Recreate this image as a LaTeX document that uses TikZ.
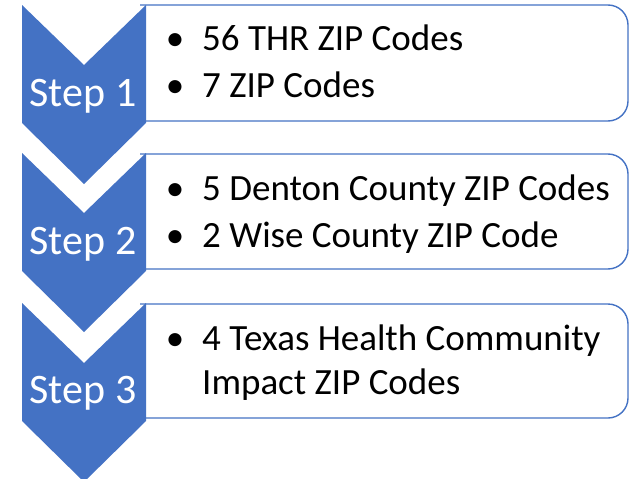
\documentclass[tikz,border=0pt]{standalone}
\usepackage{fontspec}
\setmainfont{Carlito}
\definecolor{accent}{HTML}{4472C4}
\begin{document}
\begin{tikzpicture}[x=1pt,y=-1pt,
  chev/.style={fill=accent},
  listbox/.style={draw=accent,line width=1.4pt,fill=white,rounded corners=20pt},
  steplabel/.style={text=white,font=\fontsize{42}{50}\selectfont,anchor=base,inner sep=0pt},
  item/.style={text=black,font=\fontsize{37}{44}\selectfont,anchor=base west,inner sep=0pt},
  bul/.style={text=black,font=\fontsize{37}{44}\selectfont,anchor=base,inner sep=0pt}]
\useasboundingbox (0,0) rectangle (635,479);
% boxes
\draw[listbox] (140,5) -- (628,5) -- (628,121) -- (140,121);
\draw[listbox] (140,154) -- (628,154) -- (628,269) -- (140,269);
\draw[listbox] (140,304) -- (628,304) -- (628,418) -- (140,418);
% chevrons
\foreach \t in {5,153,303}{
  \fill[chev] (22,\t) -- (84,\t+60) -- (146,\t) -- (146,\t+118) -- (84,\t+179) -- (22,\t+118) -- cycle;
}
% step labels
\node[steplabel] (s1) at (83,106) {Step 1};
\node[steplabel] (s2) at (83,254) {Step 2};
\node[steplabel] (s3) at (83,403) {Step 3};
% box 1
\node[bul] (b1a) at (175,50) {•};
\node[item] (t1a) at (202,50) {56 THR ZIP Codes};
\node[bul] (b1b) at (175,97) {•};
\node[item] (t1b) at (202,97) {7 ZIP Codes};
% box 2
\node[bul] (b2a) at (175,200) {•};
\node[item] (t2a) at (202,200) {5 Denton County ZIP Codes};
\node[bul] (b2b) at (175,247) {•};
\node[item] (t2b) at (202,247) {2 Wise County ZIP Code};
% box 3
\node[bul] (b3a) at (175,350) {•};
\node[item] (t3a) at (202,350) {4 Texas Health Community};
\node[item] (t3b) at (202,394) {Impact ZIP Codes};
\end{tikzpicture}
\end{document}
